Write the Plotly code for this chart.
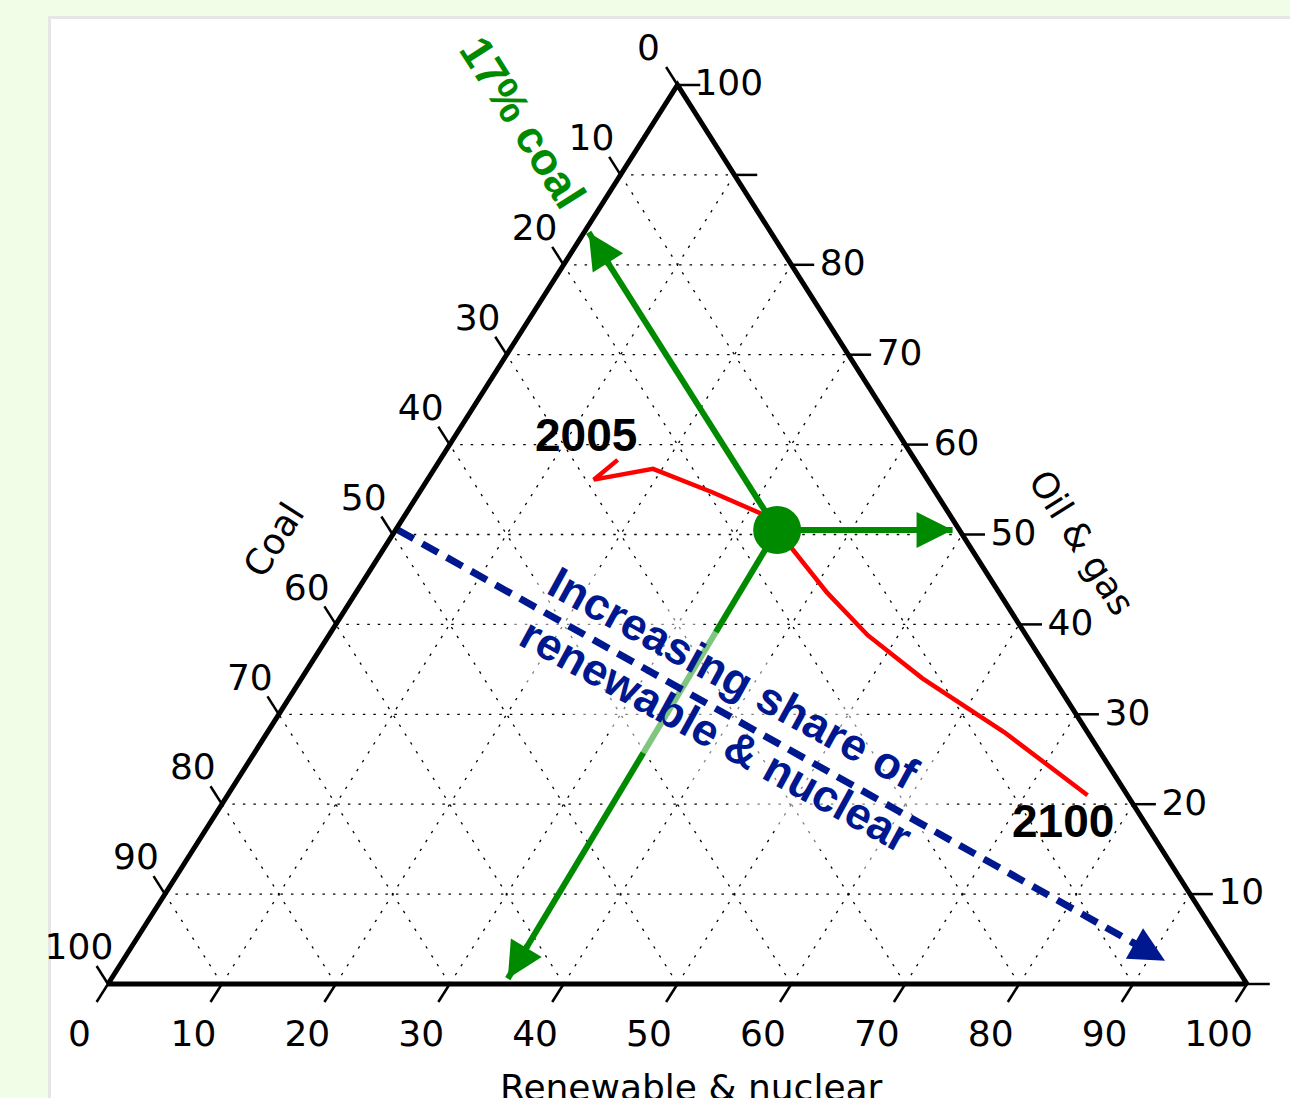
import math
import plotly.graph_objects as go

# ---------------- data ----------------
TICKS = [0, 10, 20, 30, 40, 50, 60, 70, 80, 90, 100]
GRID = [10, 20, 30, 40, 50, 60, 70, 80, 90]
BOTTOM_TICK_TEXT = ["0", "10", "20", "30", "40", "50", "60", "70", "80", "90", "100"]   # Renewable & nuclear
LEFT_TICK_TEXT = ["0", "10", "20", "30", "40", "50", "60", "70", "80", "90", "100"]     # Coal
RIGHT_TICK_TEXT = ["", "10", "20", "30", "40", "50", "60", "70", "80", "", "100"]      # Oil & gas

# energy-mix trajectory 2005 -> 2100 (percent shares)
TRAJ_RENEW = [15.6, 14.6, 19.2, 25.7, 31.7, 35.6, 41.4, 47.3, 54.5, 64.7, 75.5]
TRAJ_OILGAS = [58.3, 56.1, 57.3, 54.7, 52.1, 48.6, 43.5, 38.8, 34.0, 28.0, 21.0]
YEAR_LABELS = ["2005", "2100"]

# example point and its reading arrows (coal axis, oil & gas axis, renewable axis)
POINT_RENEW = 33.5
POINT_OILGAS = 50.5
READ_RENEW = [0.4, 48.9, 34.8]
READ_OILGAS = [83.6, 50.5, 0.6]

# trend arrow
TREND_RENEW = [0.2, 91.5]
TREND_OILGAS = [50.5, 2.6]

# ---------------- layout helpers ----------------
W, H = 1290, 1098
PX0, PY0 = 108.0, 984.0
SX, SY = 11.39, 8.99

GREEN = "#008a00"
RED = "#ff0000"
NAVY = "#00188f"


def xy(r, o):
    return r + o / 2.0, o


def to_px(x, y):
    return PX0 + x * SX, PY0 - y * SY


def from_px(px, py):
    return (px - PX0) / SX, (PY0 - py) / SY


fig = go.Figure()

# grid
gx, gy = [], []
for k in GRID:
    for a, b in [((0, k), (100 - k, k)), ((k, 0), (k, 100 - k)), ((100 - k, 0), (0, 100 - k))]:
        x1, y1 = xy(*a)
        x2, y2 = xy(*b)
        gx += [x1, x2, None]
        gy += [y1, y2, None]
fig.add_trace(go.Scatter(x=gx, y=gy, mode="lines",
                         line=dict(color="black", width=1.3, dash="2.5px,8px"),
                         hoverinfo="skip"))

# red trajectory
tx, ty = zip(*[xy(r, o) for r, o in zip(TRAJ_RENEW, TRAJ_OILGAS)])
fig.add_trace(go.Scatter(x=tx, y=ty, mode="lines", line=dict(color=RED, width=4.5),
                         hoverinfo="skip"))

# green reading lines
px_, py_ = xy(POINT_RENEW, POINT_OILGAS)
for r, o in zip(READ_RENEW, READ_OILGAS):
    ex, ey = xy(r, o)
    fig.add_trace(go.Scatter(x=[px_, ex], y=[py_, ey], mode="lines",
                             line=dict(color=GREEN, width=6), hoverinfo="skip"))

# translucent box behind text
ang = math.radians(28.7)
cx, cy = 732, 708
ux, uy = math.cos(ang), math.sin(ang)
vx, vy = -math.sin(ang), math.cos(ang)
bx, by = [], []
for s, t in [(-235, -59), (235, -59), (235, 82), (-235, 82), (-235, -59)]:
    X, Y = from_px(cx + ux * s + vx * t, cy + uy * s + vy * t)
    bx.append(X)
    by.append(Y)
fig.add_trace(go.Scatter(x=bx, y=by, mode="lines", fill="toself",
                         fillcolor="rgba(255,255,255,0.5)", line=dict(width=0),
                         hoverinfo="skip"))

# blue dashed trend line (stops just before head)
sx0, sy0 = xy(TREND_RENEW[0], TREND_OILGAS[0])
sx1, sy1 = xy(TREND_RENEW[1], TREND_OILGAS[1])
p0 = to_px(sx0, sy0)
p1 = to_px(sx1, sy1)
L = math.hypot(p1[0] - p0[0], p1[1] - p0[1])
f = 1 - 30 / L
dx_end, dy_end = from_px(p0[0] + (p1[0] - p0[0]) * f, p0[1] + (p1[1] - p0[1]) * f)
fig.add_trace(go.Scatter(x=[sx0, dx_end], y=[sy0, dy_end], mode="lines",
                         line=dict(color=NAVY, width=7, dash="18px,10px"), hoverinfo="skip"))

# green dot
fig.add_trace(go.Scatter(x=[px_], y=[py_], mode="markers",
                         marker=dict(color=GREEN, size=48, line=dict(width=0)), hoverinfo="skip"))

# triangle frame
fx, fy = zip(*[xy(0, 0), xy(100, 0), xy(0, 100), xy(0, 0)])
fig.add_trace(go.Scatter(x=fx, y=fy, mode="lines", line=dict(color="black", width=5),
                         hoverinfo="skip"))

# ticks
TL = 2.0
kx, ky = [], []
for k in TICKS:
    for a, b in [((k, 0), (k, -TL)),
                 ((0, 100 - k), (-TL, 100 - k + TL)),
                 ((100 - k, k), (100 - k + TL, k))]:
        x1, y1 = xy(*a)
        x2, y2 = xy(*b)
        kx += [x1, x2, None]
        ky += [y1, y2, None]
fig.add_trace(go.Scatter(x=kx, y=ky, mode="lines", line=dict(color="black", width=2.5),
                         hoverinfo="skip"))

# tick labels
tick_font = dict(family="DejaVu Sans", size=36, color="black")
LBL_DY = -0.45
bx_, by_ = [], []
for k in TICKS:
    X, Y = xy(k, 0)
    bx_.append(X - 2.5)
    by_.append(Y - 5.45 + LBL_DY)
fig.add_trace(go.Scatter(x=bx_, y=by_, mode="text", text=BOTTOM_TICK_TEXT,
                         textposition="middle center", textfont=tick_font, hoverinfo="skip"))
lx_, ly_ = [], []
for k in TICKS:
    X, Y = xy(0, 100 - k)
    lx_.append(X - 2.55)
    ly_.append(Y + 4.2 + LBL_DY)
fig.add_trace(go.Scatter(x=lx_, y=ly_, mode="text", text=LEFT_TICK_TEXT,
                         textposition="middle center", textfont=tick_font, hoverinfo="skip"))
rx_, ry_ = [], []
for k in TICKS:
    X, Y = xy(100 - k, k)
    rx_.append(X + 4.5)
    ry_.append(Y + 0.3 + LBL_DY)
fig.add_trace(go.Scatter(x=rx_, y=ry_, mode="text", text=RIGHT_TICK_TEXT,
                         textposition="middle center", textfont=tick_font, hoverinfo="skip"))

annotations = []


def head(tip, start, color, width, size):
    tp = to_px(*tip)
    sp = to_px(*start)
    d = math.hypot(tp[0] - sp[0], tp[1] - sp[1])
    back = 40.0
    tail = from_px(tp[0] - (tp[0] - sp[0]) / d * back, tp[1] - (tp[1] - sp[1]) / d * back)
    annotations.append(dict(x=tip[0], y=tip[1], ax=tail[0], ay=tail[1], xref="x", yref="y",
                            axref="x", ayref="y", text="", showarrow=True, arrowhead=2,
                            arrowsize=size, arrowwidth=width, arrowcolor=color, standoff=0))


for r, o in zip(READ_RENEW, READ_OILGAS):
    head(xy(r, o), (px_, py_), GREEN, 6, 1.2)
head((sx1, sy1), (sx0, sy0), NAVY, 7, 1.0)

bold = "Liberation Sans"


def text_ann(txt, pxy, size, color, family, angle=0, align="center"):
    X, Y = from_px(*pxy)
    annotations.append(dict(x=X, y=Y, xref="x", yref="y", text=txt, showarrow=False,
                            textangle=angle, align=align, xanchor="center", yanchor="middle",
                            font=dict(family=family, size=size, color=color)))


text_ann("<b>" + YEAR_LABELS[0] + "</b>", (586, 435), 46, "black", bold)
text_ann("<b>" + YEAR_LABELS[1] + "</b>", (1063, 821), 46, "black", bold)
text_ann("<b>17% coal</b>", (523, 122), 45, GREEN, bold, 57.6)
text_ann("<b>Increasing share of<br>renewable & nuclear</b>", (730, 710), 45, NAVY, bold, 28.7, "left")
text_ann("Coal", (273, 540), 36, "black", "DejaVu Sans", -57.6)
text_ann("Oil & gas", (1082, 542), 36, "black", "DejaVu Sans", 57.6)
text_ann("Renewable & nuclear", (691, 1087), 36, "black", "DejaVu Sans")

fig.update_layout(
    width=W, height=H, autosize=False,
    margin=dict(l=0, r=0, t=0, b=0, pad=0),
    paper_bgcolor="#f1fde6", plot_bgcolor="rgba(0,0,0,0)",
    showlegend=False,
    xaxis=dict(visible=False, range=[-PX0 / SX, (W - PX0) / SX], fixedrange=True),
    yaxis=dict(visible=False, range=[(PY0 - H) / SY, PY0 / SY], fixedrange=True),
    annotations=annotations,
    shapes=[dict(type="rect", xref="paper", yref="paper", x0=49.5 / W, x1=1.05,
                 y0=-0.05, y1=1 - 17.5 / H, fillcolor="white",
                 line=dict(color="#e6e6e6", width=3), layer="below")],
)

fig.write_html("out.html", config={"displayModeBar": False},
               post_script="document.body.style.margin='0';document.body.style.overflow='hidden';")
